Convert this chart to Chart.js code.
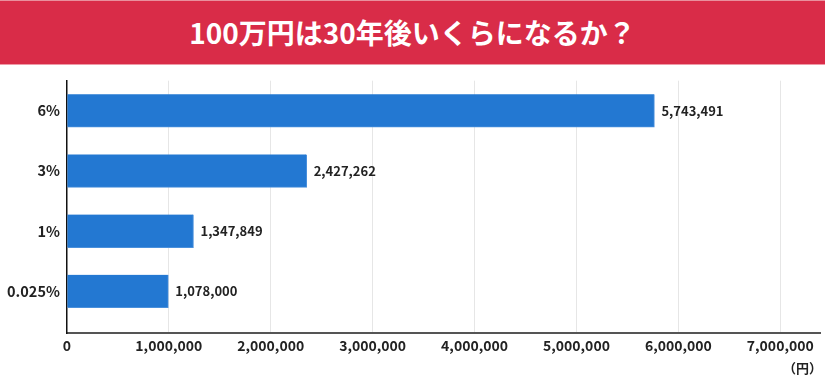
<!DOCTYPE html>
<html>
<head>
<meta charset="utf-8">
<script src="https://cdn.jsdelivr.net/npm/chart.js@4/dist/chart.umd.min.js"></script>
<style>
  html, body { margin: 0; padding: 0; background: #fff; }
  body { width: 825px; height: 381px; overflow: hidden; font-family: "Noto Sans CJK JP", "Noto Sans", sans-serif; }
  #banner {
    height: 63px; background: #d92c48; border-top: 1px solid #e9909d; border-bottom: 1px solid #ef9aa7;
    color: #fff; font-weight: 700; font-size: 28px; line-height: 63px; text-align: center;
  }
  #wrap { position: relative; width: 825px; height: 316px; }
  canvas { display: block; }
  #unit { position: absolute; left: 783px; top: 294px; font-size: 13px; line-height: 18px; font-weight: 700; color: #222; }
</style>
</head>
<body>
<div id="banner">100万円は30年後いくらになるか？</div>
<div id="wrap"><canvas id="c" width="825" height="316"></canvas><div id="unit">（円）</div></div>
<script>
const categories = ["6%", "3%", "1%", "0.025%"];
// bar lengths as drawn in the picture
const values = [5765000, 2353000, 1242000, 995000];
// value labels as printed in the picture
const valueLabels = ["5,743,491", "2,427,262", "1,347,849", "1,078,000"];
const xTicks = [0, 1000000, 2000000, 3000000, 4000000, 5000000, 6000000, 7000000];

const fmt = v => v.toLocaleString("en-US");

const labelPlugin = {
  id: "valueLabels",
  afterDatasetsDraw(chart) {
    const ctx = chart.ctx;
    const meta = chart.getDatasetMeta(0);
    ctx.save();
    ctx.font = "700 13px 'Noto Sans CJK JP', sans-serif";
    ctx.fillStyle = "#222";
    ctx.textBaseline = "middle";
    ctx.textAlign = "left";
    meta.data.forEach((bar, i) => {
      ctx.fillText(valueLabels[i], bar.x + 7, bar.y);
    });
    ctx.restore();
  }
};

new Chart(document.getElementById("c"), {
  type: "bar",
  data: {
    datasets: [{
      data: values.map((v, i) => ({ x: v, y: i })),
      backgroundColor: "#2378d2",
      borderColor: "#4a90dc",
      borderWidth: { top: 0, left: 0, right: 1, bottom: 1 },
      barThickness: 33
    }]
  },
  options: {
    indexAxis: "y",
    responsive: false,
    animation: false,
    layout: { padding: { left: 0, right: 5, top: 7, bottom: 23 } },
    plugins: { legend: { display: false }, tooltip: { enabled: false } },
    scales: {
      x: {
        type: "linear",
        min: 0,
        max: 7390000,
        afterBuildTicks: s => { s.ticks = xTicks.map(v => ({ value: v })); },
        ticks: {
          callback: v => fmt(v),
          color: "#222",
          font: { family: "'Noto Sans CJK JP', sans-serif", size: 14, weight: "700" },
          maxRotation: 0,
          padding: 4
        },
        grid: { color: "#e6e6e6", lineWidth: 1, drawTicks: false },
        border: { display: true, color: "#555", width: 2 }
      },
      y: {
        type: "linear",
        reverse: true,
        offset: false,
        min: -0.5,
        max: 3.697,
        afterBuildTicks: s => { s.ticks = categories.map((c, i) => ({ value: i })); },
        ticks: {
          callback: v => categories[v] ?? "",
          color: "#222",
          font: { family: "'Noto Sans CJK JP', sans-serif", size: 14.5, weight: "700" },
          padding: 7
        },
        grid: { display: false, drawTicks: false },
        border: { display: true, color: "#111", width: 1.5 }
      }
    }
  },
  plugins: [labelPlugin]
});
</script>
</body>
</html>
